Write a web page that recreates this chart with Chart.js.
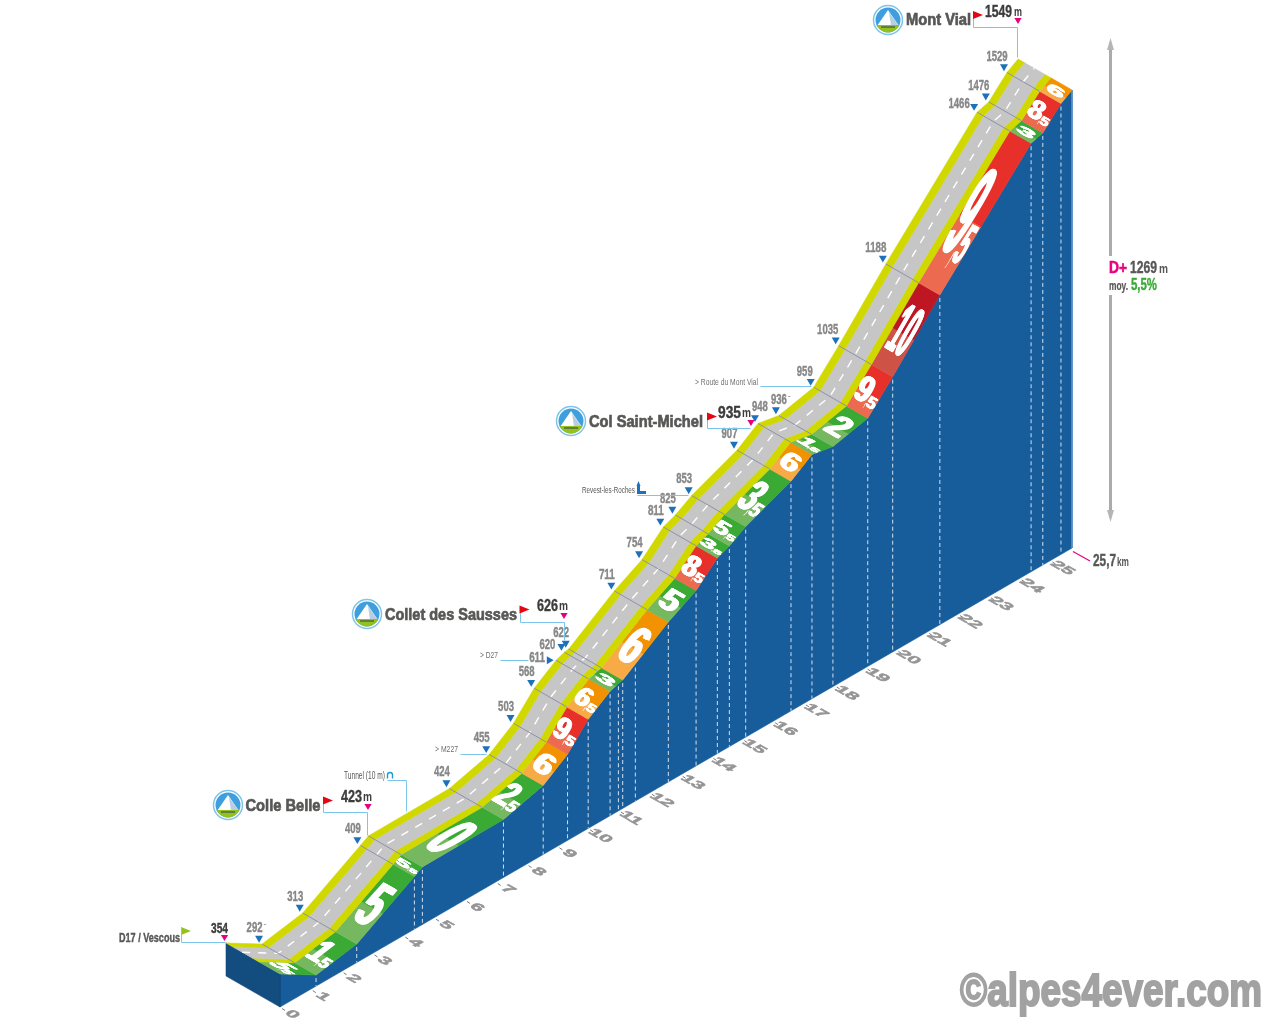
<!DOCTYPE html>
<html>
<head>
<meta charset="utf-8">
<title>Mont Vial</title>
<script src="https://cdn.jsdelivr.net/npm/chart.js@4/dist/chart.umd.min.js"></script>
<style>
  html, body { margin: 0; padding: 0; background: #fff; }
  canvas { display: block; }
</style>
</head>
<body>
<canvas id="profile" width="1280" height="1024"></canvas>
<script>
// distance (km) and altitude (m) of every break in the profile
const kmPoints = [0, 1.17, 2.49, 4.36, 4.62, 7.25, 8.54, 9.33, 10.0, 10.71, 10.98, 11.12, 12.6, 13.5, 14.19, 14.58, 15.11, 16.58, 17.26, 17.94, 19.07, 19.88, 21.41, 24.37, 24.75, 25.34, 25.7];
const altitudes = [354, 292, 313, 409, 423, 424, 455, 503, 568, 611, 620, 622, 711, 754, 811, 825, 853, 907, 948, 936, 959, 1035, 1188, 1466, 1476, 1529, 1549];
// gradient printed on each stretch, null = same stretch as the one before
const grades = ["5,5", "1,5", "5", "5,5", "0", "2,5", "6", "9,5", "6,5", "3", null, "6", "5", "8,5", "3,5", "5,5", "3,5", "6", "1,5", "2", "9,5", "10", "9,5", "3", "8,5", "6"];
// one more dashed line on the wall that is not a break
const extraDashKm = [11.53];
const extraDashAlt = [645];
const kmTicks = [0, 1, 2, 3, 4, 5, 6, 7, 8, 9, 10, 11, 12, 13, 14, 15, 16, 17, 18, 19, 20, 21, 22, 23, 24, 25];

// oblique projection, all done by the two hidden linear scales
const BASE_ALT = 261;
const PX_KM = 30.82;
const PX_M = 0.3556;
const RISE_KM = 17.86;
const SHEAR = RISE_KM / PX_M;
const DEPTH_X = -54 / PX_KM;
const DEPTH_Y = 31 / PX_M;
const ORIGIN_X = 280;
const ORIGIN_Y = 1007;

const BAND = 0.395;
const YELLOW_IN = 0.51;
const YELLOW_OUT = 0.884;

function project(km, alt, depth, nudgeX, nudgeY) {
  return {
    x: km + depth * DEPTH_X + (nudgeX || 0) / PX_KM,
    y: alt + km * SHEAR + depth * DEPTH_Y - (nudgeY || 0) / PX_M
  };
}

function ribbon(kms, alts, d0, d1) {
  const pts = [];
  kms.forEach((k, i) => pts.push(project(k, alts[i], d0)));
  for (let i = kms.length - 1; i >= 0; i--) pts.push(project(kms[i], alts[i], d1));
  pts.push(pts[0]);
  return pts;
}

function shape(data, color) {
  return { data, showLine: true, fill: "shape", backgroundColor: color, borderColor: color, borderWidth: 0.6, pointRadius: 0, tension: 0 };
}

function stroke(data, color, width, dash) {
  return { data, showLine: true, fill: false, borderColor: color, borderWidth: width, borderDash: dash || [], pointRadius: 0, tension: 0 };
}

function gradeColors(label) {
  const g = parseFloat(label.replace(",", "."));
  if (g >= 10) return ["#be1622", "#cf5247"];
  if (g >= 8) return ["#e8302a", "#ec6b50"];
  if (g >= 6) return ["#f39200", "#f7aa45"];
  return ["#3aaa35", "#76b85f"];
}

// start and end index of each printed stretch
function stretches() {
  const out = [];
  grades.forEach((g, i) => {
    if (g === null) out[out.length - 1].end = i + 1;
    else out.push({ label: g, start: i, end: i + 1 });
  });
  return out;
}

function buildDatasets() {
  const sets = [];
  const lastKm = kmPoints[kmPoints.length - 1];

  // wall and the side of the box
  const wall = [project(0, BASE_ALT, 0), project(lastKm, BASE_ALT, 0)];
  for (let i = kmPoints.length - 1; i >= 0; i--) wall.push(project(kmPoints[i], altitudes[i], 0));
  wall.push(wall[0]);
  sets.push(shape(wall, "#175c9b"));
  sets.push(shape([project(0, altitudes[0], 1), project(0, altitudes[0], 0), project(0, BASE_ALT, 0), project(0, BASE_ALT, 1), project(0, altitudes[0], 1)], "#134c7e"));
  sets.push(stroke([project(lastKm, altitudes[altitudes.length - 1], 0), project(lastKm, BASE_ALT, 0)], "#5f93c4", 1));

  // dashed lines on the wall
  const dashKm = kmPoints.slice(1, -1).concat(extraDashKm);
  const dashAlt = altitudes.slice(1, -1).concat(extraDashAlt);
  dashKm.forEach((k, i) => {
    sets.push(stroke([project(k, dashAlt[i], 0, 0, 3), project(k, BASE_ALT, 0)], "#d5e0ec", 1, [4, 3]));
  });

  // coloured gradient band, light half then saturated half
  stretches().forEach(s => {
    const colors = gradeColors(s.label);
    const k0 = kmPoints[s.start], k1 = kmPoints[s.end];
    const a0 = altitudes[s.start], a1 = altitudes[s.end];
    const kS = k0 + (k1 - k0) * 0.45;
    const aS = a0 + (a1 - a0) * 0.45;
    sets.push(shape(ribbon([k0, kS], [a0, aS], 0, BAND), colors[1]));
    sets.push(shape(ribbon([kS, k1], [aS, a1], 0, BAND), colors[0]));
  });

  // road
  sets.push(shape(ribbon(kmPoints, altitudes, BAND, YELLOW_IN), "#d0d800"));
  sets.push(shape(ribbon(kmPoints, altitudes, YELLOW_IN, YELLOW_OUT), "#c6c6c6"));
  sets.push(shape(ribbon(kmPoints, altitudes, YELLOW_OUT, 1), "#d0d800"));
  sets.push(stroke(kmPoints.map((k, i) => project(k, altitudes[i], 0.7)), "#ffffff", 1.4, [8, 8]));

  // seams across the road
  kmPoints.slice(1, -1).forEach((k, i) => {
    sets.push(stroke([project(k, altitudes[i + 1], 1), project(k, altitudes[i + 1], BAND)], "#8e92ac", 1));
  });

  // blue altitude markers
  const markers = [], rotations = [];
  kmPoints.forEach((k, i) => {
    if (i === 0 || i === kmPoints.length - 1 || altitudes[i] === 423) return;
    if (altitudes[i] === 611) { markers.push(project(k, altitudes[i], 1, -7, 0)); rotations.push(90); return; }
    markers.push(project(k, altitudes[i], 1, -3, -6));
    rotations.push(180);
  });
  sets.push({ data: markers, showLine: false, pointStyle: "triangle", pointRadius: 4.6, pointRotation: rotations, backgroundColor: "#1d71b8", borderColor: "#1d71b8", borderWidth: 0 });

  // first dataset is painted last, so flip the painter's order
  return sets.reverse();
}

const FONT = '"Liberation Sans Narrow", "Liberation Sans", sans-serif';

// text squeezed to a known width, x is the left edge and y the middle
function fitText(ctx, str, x, y, width, size, color, bold) {
  ctx.save();
  ctx.font = "bold " + size + "px " + FONT;
  ctx.textBaseline = "middle";
  ctx.textAlign = "left";
  ctx.fillStyle = color;
  const m = ctx.measureText(str).width;
  ctx.translate(x, y + 1);
  ctx.scale(width / m, 1);
  ctx.fillText(str, 0, 0);
  if (bold) {
    ctx.strokeStyle = color;
    ctx.lineWidth = bold;
    ctx.strokeText(str, 0, 0);
  }
  ctx.restore();
}

function thinText(ctx, str, x, y, width, size, color) {
  ctx.save();
  ctx.font = size + "px " + FONT;
  ctx.textBaseline = "middle";
  ctx.fillStyle = color;
  const m = ctx.measureText(str).width;
  ctx.translate(x, y);
  ctx.scale(width / m, 1);
  ctx.fillText(str, 0, 0);
  ctx.restore();
}

function triangleDown(ctx, x, y, r, color) {
  ctx.fillStyle = color;
  ctx.beginPath();
  ctx.moveTo(x - r, y - r * 0.8);
  ctx.lineTo(x + r, y - r * 0.8);
  ctx.lineTo(x, y + r * 0.8);
  ctx.closePath();
  ctx.fill();
}

function flag(ctx, x, y, color) {
  ctx.fillStyle = color;
  ctx.beginPath();
  ctx.moveTo(x, y);
  ctx.lineTo(x + 10, y + 4);
  ctx.lineTo(x, y + 8);
  ctx.closePath();
  ctx.fill();
}

function leader(ctx, pts) {
  ctx.strokeStyle = "#7cc6ee";
  ctx.lineWidth = 1;
  ctx.beginPath();
  pts.forEach((p, i) => i ? ctx.lineTo(p[0] + 0.5, p[1] + 0.5) : ctx.moveTo(p[0] + 0.5, p[1] + 0.5));
  ctx.stroke();
}

function summitIcon(ctx, x, y) {
  ctx.save();
  ctx.fillStyle = "#ffffff";
  ctx.strokeStyle = "#7fc4ea";
  ctx.lineWidth = 1.5;
  ctx.beginPath(); ctx.arc(x, y, 14.5, 0, Math.PI * 2); ctx.fill(); ctx.stroke();
  ctx.beginPath(); ctx.arc(x, y, 12.5, 0, Math.PI * 2); ctx.clip();
  ctx.fillStyle = "#3f9ede";
  ctx.fillRect(x - 15, y - 15, 30, 30);
  ctx.fillStyle = "#ffffff";
  ctx.beginPath();
  ctx.moveTo(x, y - 10); ctx.lineTo(x + 11, y + 6); ctx.lineTo(x - 11, y + 6);
  ctx.closePath(); ctx.fill();
  ctx.fillStyle = "#b7cfe0";
  ctx.beginPath();
  ctx.moveTo(x + 1, y - 8); ctx.lineTo(x + 11, y + 6); ctx.lineTo(x + 3, y + 6);
  ctx.closePath(); ctx.fill();
  ctx.fillStyle = "#95c11f";
  ctx.fillRect(x - 15, y + 5, 30, 10);
  ctx.fillStyle = "#5f7f3a";
  ctx.fillRect(x - 7, y + 6, 14, 2);
  ctx.restore();
}

// altitude label beside each marker, offsets from the marker
const labelShift = {
  611: [-16, 3], 620: [-14, -2], 1466: [-15, -3],
  948: [5, -11], 936: [3, -10.5],
  959: [-6, -10], 1035: [-8, -11], 1188: [-7, -11], 1476: [-7, -11], 1529: [-7, -10]
};

function drawMarkerLabels(ctx, px) {
  kmPoints.forEach((k, i) => {
    const a = altitudes[i];
    if (i === 0 || i === kmPoints.length - 1 || a === 423) return;
    const p = px(project(k, a, 1, -3, -6));
    const s = labelShift[a] || [-4.5, -11];
    const str = String(a);
    const w = str.length * 5.3;
    fitText(ctx, str, p.x + s[0] - w / 2, p.y + s[1], w, 14, "#878787", 0.4);
    if (a === 292 || a === 936) thinText(ctx, "-", p.x + s[0] + w / 2 + 1, p.y + s[1] - 3, 3, 9, "#878787");
  });
}

// thickens the digits sideways only, a stroke would clog them when stretched
function heavyText(ctx, str) {
  [-4, -2, 0, 2, 4].forEach(dx => ctx.fillText(str, dx, 0));
}

function drawGrades(ctx, px) {
  stretches().forEach(s => {
    const p0 = px(project(kmPoints[s.start], altitudes[s.start], 0));
    const p1 = px(project(kmPoints[s.end], altitudes[s.end], 0));
    const rx = p1.x - p0.x, ry = p1.y - p0.y;
    const len = Math.hypot(rx, ry);
    const cx = (p0.x + p1.x) / 2 - 54 * BAND / 2;
    const cy = (p0.y + p1.y) / 2 - 31 * BAND / 2;
    const band = Math.hypot(54, 31) * BAND;
    const parts = s.label.split(",");
    const H = Math.min(96, Math.max(7, len * 0.55));
    const wMain = band * (parts[1] ? 0.6 : (parts[0].length > 1 ? 0.85 : 0.75));
    const wDec = parts[1] ? band * 0.4 : 0;

    ctx.save();
    ctx.font = "bold 100px " + FONT;
    ctx.textBaseline = "alphabetic";
    ctx.fillStyle = "#ffffff";
    const sx = wMain / ctx.measureText(parts[0]).width;
    const sy = H / 70;
    const ax = 54 / Math.hypot(54, 31), ay = 31 / Math.hypot(54, 31);
    ctx.transform(ax, ay, -rx / len, -ry / len, cx, cy);
    ctx.translate(-(wMain + wDec) / 2, -H / 2);
    ctx.save();
    ctx.translate(0, H);
    ctx.scale(sx, sy);
    heavyText(ctx, parts[0]);
    ctx.restore();
    if (parts[1]) {
      // decimals sit low on the right, the comma only takes a sliver
      const hDec = Math.max(4, H * 0.45);
      const comma = wDec * 0.15;
      ctx.save();
      ctx.translate(wMain - comma * 0.3, H + hDec * 0.12);
      ctx.scale(comma / ctx.measureText(",").width, hDec / 70);
      ctx.fillText(",", 0, 0);
      ctx.restore();
      ctx.save();
      ctx.translate(wMain + comma * 0.6, H + hDec * 0.12);
      ctx.scale((wDec - comma * 0.6) / ctx.measureText(parts[1]).width, hDec / 70);
      heavyText(ctx, parts[1]);
      ctx.restore();
    }
    ctx.restore();
  });
}

function drawKmTicks(ctx, px) {
  kmTicks.forEach(k => {
    const p = px(project(k, BASE_ALT, 0));
    ctx.strokeStyle = "#777777";
    ctx.lineWidth = 1;
    ctx.beginPath();
    ctx.moveTo(p.x + 2, p.y + 1.5);
    ctx.lineTo(p.x + 5, p.y + 3.5);
    ctx.stroke();

    ctx.save();
    const str = String(k);
    ctx.font = "bold 15px " + FONT;
    ctx.fillStyle = "#959595";
    ctx.strokeStyle = "#959595";
    ctx.lineWidth = 0.7;
    ctx.textAlign = "center";
    ctx.textBaseline = "middle";
    ctx.transform(0.867, 0.498, -0.78, 0.45, p.x + 12, p.y + 7.5);
    ctx.scale(1.35, 1);
    ctx.fillText(str, 0, 0);
    ctx.strokeText(str, 0, 0);
    ctx.restore();
  });
}

function drawCallouts(ctx) {
  const dark = "#3c3c3b", name = "#575756", pink = "#e6007e", red = "#e30613";

  // start
  fitText(ctx, "D17 / Vescous", 119, 938, 61, 12, name, 0.4);
  flag(ctx, 181, 927, "#95c11f");
  leader(ctx, [[181, 927], [181, 942], [225, 942]]);
  fitText(ctx, "354", 211, 928, 17, 15, dark, 0.4);
  triangleDown(ctx, 224.5, 938, 3.6, pink);

  // Colle Belle
  summitIcon(ctx, 228, 805);
  fitText(ctx, "Colle Belle", 245.5, 805.5, 75, 17, name, 0.7);
  leader(ctx, [[323, 797], [323, 812], [367, 812], [367, 835]]);
  flag(ctx, 323, 796.5, red);
  fitText(ctx, "423", 341, 796, 21, 17, dark, 0.4);
  fitText(ctx, "m", 363, 797, 9, 12, dark);
  triangleDown(ctx, 368, 807, 3.6, pink);

  // tunnel
  thinText(ctx, "Tunnel (10 m)", 344, 776, 41, 10, "#575756");
  ctx.strokeStyle = "#1d9ad6";
  ctx.lineWidth = 1.4;
  ctx.beginPath();
  ctx.arc(390, 775, 2.5, Math.PI, 0);
  ctx.moveTo(387.5, 775); ctx.lineTo(387.5, 778.5);
  ctx.moveTo(392.5, 775); ctx.lineTo(392.5, 778.5);
  ctx.stroke();
  leader(ctx, [[387, 780], [406, 780], [406, 811]]);

  // road junctions
  thinText(ctx, "> M227", 435, 750, 23, 9, "#6f6f6e");
  leader(ctx, [[460, 754], [486, 754]]);
  thinText(ctx, "> D27", 480, 656, 18, 9, "#6f6f6e");
  leader(ctx, [[500, 660], [528, 660]]);
  thinText(ctx, "> Route du Mont Vial", 695, 383, 63, 9, "#6f6f6e");
  leader(ctx, [[760, 386], [811, 386]]);

  // Collet des Sausses
  summitIcon(ctx, 367, 614);
  fitText(ctx, "Collet des Sausses", 385, 614.5, 132, 17, name, 0.7);
  leader(ctx, [[520, 606], [520, 622], [564, 622], [564, 640]]);
  flag(ctx, 519.5, 605.5, red);
  fitText(ctx, "626", 537, 605, 21, 17, dark, 0.4);
  fitText(ctx, "m", 559, 606, 9, 12, dark);
  triangleDown(ctx, 564, 616, 3.6, pink);

  // Revest
  thinText(ctx, "Revest-les-Roches", 582, 491, 53, 9, "#575756");
  ctx.fillStyle = "#1d71b8";
  ctx.fillRect(637, 486, 3, 8);
  ctx.beginPath();
  ctx.moveTo(638.5, 481); ctx.lineTo(640.5, 486); ctx.lineTo(636.5, 486);
  ctx.closePath(); ctx.fill();
  ctx.fillRect(640, 491, 6, 3);
  leader(ctx, [[637, 495], [688, 495]]);

  // Col Saint-Michel
  summitIcon(ctx, 571, 421);
  fitText(ctx, "Col Saint-Michel", 589, 421.5, 114, 17, name, 0.7);
  leader(ctx, [[707, 413], [707, 428], [750, 428]]);
  flag(ctx, 707, 412.5, red);
  fitText(ctx, "935", 718, 412, 23, 17, dark, 0.4);
  fitText(ctx, "m", 742, 413, 9, 12, dark);
  triangleDown(ctx, 751, 423, 3.6, pink);

  // Mont Vial
  summitIcon(ctx, 888, 20);
  fitText(ctx, "Mont Vial", 906, 19.5, 65, 17, name, 0.7);
  leader(ctx, [[973, 11], [973, 27], [1017, 27], [1017, 57]]);
  flag(ctx, 973, 11, red);
  fitText(ctx, "1549", 985, 11, 27, 17, dark, 0.4);
  fitText(ctx, "m", 1014, 12, 8, 12, dark);
  triangleDown(ctx, 1018, 21, 3.6, pink);

  // height arrow
  ctx.strokeStyle = "#ababab";
  ctx.fillStyle = "#b5b5b5";
  ctx.lineWidth = 3;
  ctx.beginPath();
  ctx.moveTo(1110.5, 44); ctx.lineTo(1110.5, 256);
  ctx.moveTo(1110.5, 295); ctx.lineTo(1110.5, 514);
  ctx.stroke();
  ctx.beginPath();
  ctx.moveTo(1107, 50); ctx.lineTo(1110.5, 38); ctx.lineTo(1114, 50); ctx.closePath(); ctx.fill();
  ctx.beginPath();
  ctx.moveTo(1107, 510); ctx.lineTo(1110.5, 522); ctx.lineTo(1114, 510); ctx.closePath(); ctx.fill();

  fitText(ctx, "D+", 1109, 267.5, 18, 17, pink, 0.6);
  fitText(ctx, "1269", 1130, 267.5, 27, 16, name, 0.4);
  fitText(ctx, "m", 1159, 269, 9, 12, name);
  fitText(ctx, "moy.", 1109, 285.5, 19, 12, name, 0.2);
  fitText(ctx, "5,5%", 1131, 284.5, 26, 16, "#3aaa35", 0.4);

  // length
  ctx.strokeStyle = pink;
  ctx.lineWidth = 1.2;
  ctx.beginPath();
  ctx.moveTo(1073, 551.5); ctx.lineTo(1090, 561);
  ctx.stroke();
  fitText(ctx, "25,7", 1093, 561, 23, 16, name, 0.4);
  fitText(ctx, "km", 1117, 562, 12, 12, name);

  // watermark
  fitText(ctx, "©alpes4ever.com", 960, 992, 302, 46, "#a2a2a2", 2);
}

const annotations = {
  id: "annotations",
  afterDatasetsDraw(chart) {
    const ctx = chart.ctx;
    const sx = chart.scales.x, sy = chart.scales.y;
    const px = p => ({ x: sx.getPixelForValue(p.x), y: sy.getPixelForValue(p.y) });
    drawMarkerLabels(ctx, px);
    drawGrades(ctx, px);
    drawKmTicks(ctx, px);
    drawCallouts(ctx);
  }
};

new Chart(document.getElementById("profile"), {
  type: "scatter",
  data: { datasets: buildDatasets() },
  options: {
    responsive: false,
    animation: false,
    devicePixelRatio: 1,
    layout: { padding: 0, autoPadding: false },
    plugins: { legend: { display: false }, tooltip: { enabled: false } },
    scales: {
      x: { type: "linear", display: false, min: -ORIGIN_X / PX_KM, max: (1280 - ORIGIN_X) / PX_KM },
      y: { type: "linear", display: false, min: BASE_ALT - (1024 - ORIGIN_Y) / PX_M, max: BASE_ALT + ORIGIN_Y / PX_M }
    }
  },
  plugins: [annotations]
});
</script>
</body>
</html>
